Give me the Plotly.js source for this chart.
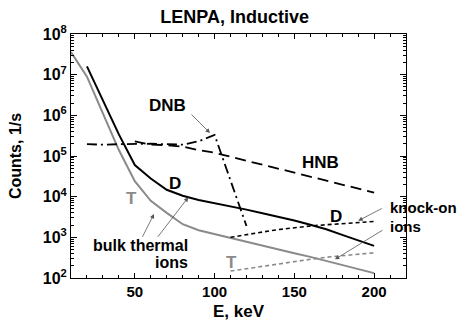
<!DOCTYPE html>
<html>
<head>
<meta charset="utf-8">
<script src="https://cdn.plot.ly/plotly-3.0.1.min.js"></script>
<style>html,body{margin:0;padding:0;background:#fff;}#chart{width:460px;height:321px;}</style>
</head>
<body>
<div id="chart"></div>
<script>
// Energies (keV)
var E_T_bulk = [10,20,30,40,50,60,70,80,90,100,110,120,130,140,150,160,170,180,190,200];
var T_bulk   = [3.6e7,8.9e6,1.12e6,1.4e5,2.4e4,7.9e3,4.0e3,2.1e3,1.5e3,1.2e3,955,776,630,500,407,331,263,209,166,132];

var E_D_bulk = [20,30,40,50,60,70,80,90,100,110,120,130,140,150,160,170,180,190,200];
var D_bulk   = [1.6e7,2.3e6,3.4e5,6.0e4,2.8e4,1.48e4,1.05e4,8.3e3,6.9e3,5.9e3,4.8e3,3.9e3,3.2e3,2.6e3,2.04e3,1.58e3,1.15e3,832,617];

var E_DNB = [20,30,40,50,60,70,80,90,100,110,120];
var DNB   = [1.95e5,1.9e5,1.95e5,2.0e5,2.0e5,1.95e5,1.9e5,2.3e5,3.3e5,2.5e4,1.9e3];

var E_HNB = [50,60,70,80,90,100,150,200];
var HNB   = [2.3e5,1.9e5,1.85e5,1.7e5,1.4e5,1.2e5,3.9e4,1.26e4];

var E_knock = [110,120,130,140,150,160,170,180,190,200];
var D_knock = [1000,1175,1350,1550,1740,1900,2040,2190,2340,2450];
var T_knock = [148,170,195,219,251,288,324,355,389,417];

var yTickVals = [1e2,1e3,1e4,1e5,1e6,1e7,1e8];
var yTickText = ['10<sup>2</sup>','10<sup>3</sup>','10<sup>4</sup>','10<sup>5</sup>','10<sup>6</sup>','10<sup>7</sup>','10<sup>8</sup>'];
var xTickVals = [50,100,150,200];

var GRAY = '#8a8a8a';
var FONT = 'Liberation Sans, Arial, sans-serif';

var traces = [
  {x:E_T_bulk, y:T_bulk, mode:'lines', line:{color:GRAY, width:2}, name:'T bulk'},
  {x:E_D_bulk, y:D_bulk, mode:'lines', line:{color:'#000', width:2}, name:'D bulk'},
  {x:E_DNB, y:DNB, mode:'lines', line:{color:'#000', width:1.8, dash:'10px,4px,2px,4px'}, name:'DNB'},
  {x:E_HNB, y:HNB, mode:'lines', line:{color:'#000', width:1.8, dash:'11px,6px'}, name:'HNB'},
  {x:E_knock, y:D_knock, mode:'lines', line:{color:'#000', width:1.6, dash:'4px,3px'}, name:'D knock-on'},
  {x:E_knock, y:T_knock, mode:'lines', line:{color:GRAY, width:1.6, dash:'4px,3px'}, name:'T knock-on'}
];

function txt(t, x, y, opts) {
  var a = {text:t, xref:'paper', yref:'paper', x:x, y:y, showarrow:false,
           xanchor:'center', yanchor:'middle',
           font:{family:FONT, size:16, color:'#000', weight:'bold'}};
  for (var k in (opts||{})) a[k] = opts[k];
  return a;
}
function arr(x, y, ax, ay) {
  return {text:'', xref:'paper', yref:'paper', x:x, y:y, ax:ax, ay:ay,
          showarrow:true, arrowhead:2, arrowsize:1.1, arrowwidth:0.8,
          arrowcolor:'#555', standoff:0, startstandoff:0};
}
var big = {family:FONT, size:17, color:'#000', weight:'bold'};
var bigGray = {family:FONT, size:17, color:GRAY, weight:'bold'};
var small = {family:FONT, size:15, color:'#000', weight:'bold'};

var annotations = [
  txt('DNB', 0.288, 0.705, {font:big}),
  txt('HNB', 0.746, 0.473, {font:big}),
  txt('D', 0.310, 0.389, {font:big}),
  txt('T', 0.182, 0.324, {font:bigGray}),
  txt('bulk thermal', 0.3552, 0.1352, {xanchor:'right'}),
  txt('ions', 0.3552, 0.0635, {xanchor:'right'}),
  txt('D', 0.791, 0.254, {font:big}),
  txt('knock-on', 0.9463, 0.2869, {xanchor:'left', font:small}),
  txt('ions', 0.9463, 0.2131, {xanchor:'left', font:small}),
  txt('T', 0.478, 0.0615, {font:bigGray}),
  arr(0.4149, 0.5943, -20, -20),
  arr(0.2478, 0.2623, -12.3, 24.3),
  arr(0.3501, 0.3307, -31.6, 41),
  arr(0.8576, 0.2348, 25, -13),
  arr(0.788, 0.0766, 49, -30)
];

var layout = {
  width:460, height:321,
  margin:{l:71, r:54, t:34, b:43},
  paper_bgcolor:'#fff', plot_bgcolor:'#fff',
  showlegend:false,
  title:{text:'LENPA, Inductive', x:0.51, xanchor:'center', y:0.947, yanchor:'middle',
         font:{family:FONT, size:18, color:'#000', weight:'bold'}},
  xaxis:{
    range:[10,220], tickmode:'array', tickvals:xTickVals,
    ticks:'inside', ticklen:5, tickwidth:1, tickcolor:'#000',
    showline:true, linecolor:'#000', linewidth:1, mirror:'ticks',
    showgrid:false, zeroline:false,
    tickfont:{family:FONT, size:15, color:'#000', weight:'bold'},
    minor:{tickmode:'linear', tick0:10, dtick:10, ticks:'inside', ticklen:3, tickcolor:'#000', showgrid:false},
    title:{text:'E, keV', standoff:14, font:{family:FONT, size:17, color:'#000', weight:'bold'}}
  },
  yaxis:{
    type:'log', range:[2,8], tickmode:'array', tickvals:yTickVals, ticktext:yTickText,
    ticks:'inside', ticklen:6, tickwidth:1, tickcolor:'#000',
    showline:true, linecolor:'#000', linewidth:1, mirror:'ticks',
    showgrid:false, zeroline:false,
    tickfont:{family:FONT, size:16, color:'#000', weight:'bold'},
    minor:{dtick:'D1', ticks:'inside', ticklen:3, tickcolor:'#000', showgrid:false},
    title:{text:'Counts, 1/s', standoff:17, font:{family:FONT, size:16, color:'#000', weight:'bold'}}
  },
  annotations:annotations
};

Plotly.newPlot('chart', traces, layout, {staticPlot:true, displayModeBar:false});
</script>
</body>
</html>
